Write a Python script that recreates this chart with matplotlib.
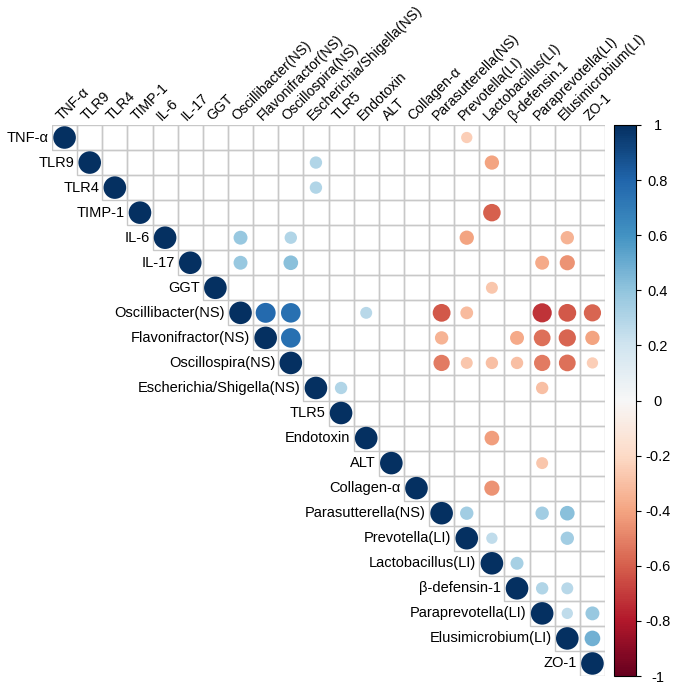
import matplotlib
matplotlib.use("Agg")
import matplotlib.pyplot as plt
import numpy as np
from matplotlib.patches import Circle, Rectangle
from matplotlib.collections import PatchCollection
from matplotlib.colors import Normalize

plt.rcParams["font.family"] = ["Liberation Sans", "DejaVu Sans"]
plt.rcParams["axes.unicode_minus"] = False

# row labels (left) and column labels (top)
row_labels = ["TNF-α", "TLR9", "TLR4", "TIMP-1", "IL-6", "IL-17", "GGT",
              "Oscillibacter(NS)", "Flavonifractor(NS)", "Oscillospira(NS)",
              "Escherichia/Shigella(NS)", "TLR5", "Endotoxin", "ALT", "Collagen-α",
              "Parasutterella(NS)", "Prevotella(LI)", "Lactobacillus(LI)",
              "β-defensin-1", "Paraprevotella(LI)", "Elusimicrobium(LI)", "ZO-1"]
col_labels = row_labels[:18] + ["β-defensin.1"] + row_labels[19:]

# significant correlations (upper triangle), by row/col index
pair_row = [0, 1, 1, 2, 3,
            4, 4, 4, 4,
            5, 5, 5, 5,
            6,
            7, 7, 7, 7, 7, 7, 7, 7,
            8, 8, 8, 8, 8, 8,
            9, 9, 9, 9, 9, 9, 9,
            10, 10, 12, 13, 14,
            15, 15, 15, 16, 16, 17, 18, 18, 19, 19, 20]
pair_col = [16, 10, 17, 10, 17,
            7, 9, 16, 20,
            7, 9, 19, 20,
            17,
            8, 9, 12, 15, 16, 19, 20, 21,
            9, 15, 18, 19, 20, 21,
            15, 16, 17, 18, 19, 20, 21,
            11, 19, 17, 19, 17,
            16, 19, 20, 17, 20, 18, 19, 20, 20, 21, 21]
pair_r = [-0.25, 0.30, -0.40, 0.30, -0.60,
          0.38, 0.30, -0.40, -0.35,
          0.38, 0.42, -0.38, -0.45,
          -0.28,
          0.78, 0.75, 0.28, -0.62, -0.32, -0.72, -0.62, -0.58,
          0.75, -0.35, -0.38, -0.55, -0.58, -0.40,
          -0.52, -0.28, -0.30, -0.30, -0.52, -0.55, -0.25,
          0.30, -0.30, -0.42, -0.28, -0.45,
          0.35, 0.35, 0.42, 0.25, 0.35, 0.33, 0.30, 0.28, 0.25, 0.38, 0.48]
diag_r = [1.0] * len(row_labels)

n = len(row_labels)

fig = plt.figure(figsize=(6.75, 6.85), dpi=100)
W, H = 675, 685
ax = fig.add_axes([52 / W, (H - 676) / H, 553 / W, 551 / H])
ax.set_xlim(-0.5, n - 0.5)
ax.set_ylim(n - 0.5, -0.5)
ax.axis("off")

# grid of upper triangle
for i in range(n):
    for j in range(i, n):
        ax.add_patch(Rectangle((j - 0.5, i - 0.5), 1, 1, facecolor="none",
                               edgecolor="#C8C8C8", lw=1.0, zorder=1))

rows = list(range(n)) + pair_row
cols = list(range(n)) + pair_col
vals = diag_r + pair_r
circles = [Circle((c, r), 0.45 * np.sqrt(abs(v))) for r, c, v in zip(rows, cols, vals)]
pc = PatchCollection(circles, cmap="RdBu", norm=Normalize(-1, 1), edgecolor="none", zorder=2)
pc.set_array(np.array(vals))
ax.add_collection(pc)

fs = 10.5
for i, lab in enumerate(row_labels):
    ax.text(i - 0.62, i, lab, ha="right", va="center", fontsize=fs)
for j, lab in enumerate(col_labels):
    ax.text(j - 0.05, -0.56, lab, ha="left", va="bottom", rotation=45,
            rotation_mode="anchor", fontsize=10.1)

cax = fig.add_axes([614 / W, (H - 676) / H, 22 / W, 551 / H])
cb = fig.colorbar(pc, cax=cax, ticks=np.linspace(-1, 1, 11))
cb.ax.set_yticklabels(["-1", "-0.8", "-0.6", "-0.4", "-0.2", "0", "0.2", "0.4", "0.6", "0.8", "1"])
cb.outline.set_linewidth(0.8)
cb.ax.tick_params(length=3.5, width=0.8, labelsize=fs, pad=12)
for t in cb.ax.get_yticklabels():
    t.set_horizontalalignment("center")

fig.savefig("out.png", dpi=100)
